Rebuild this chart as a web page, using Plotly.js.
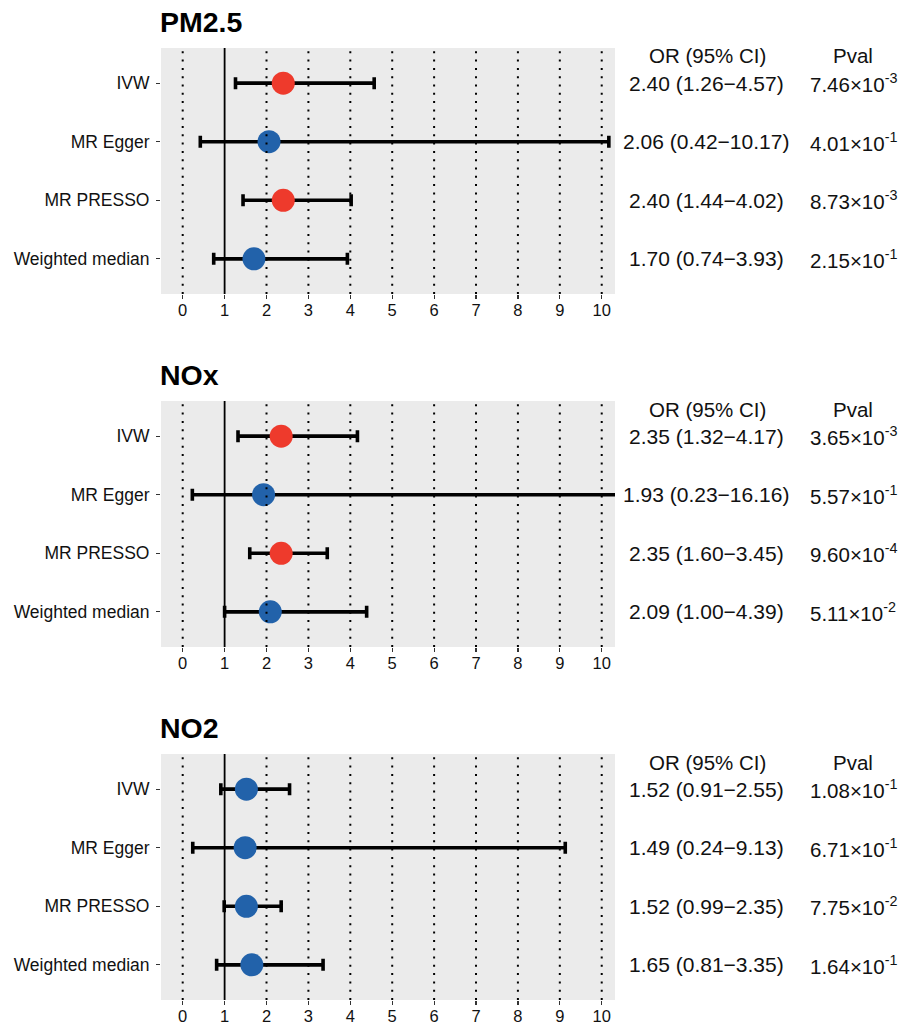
<!DOCTYPE html>
<html>
<head>
<meta charset="utf-8">
<script src="https://cdn.plot.ly/plotly-3.0.1.min.js"></script>
<style>html,body{margin:0;padding:0;background:#fff;}#chart{width:912px;height:1023px;}</style>
</head>
<body>
<div id="chart"></div>
<script>
// ---- data ----
const methods = ['IVW', 'MR Egger', 'MR PRESSO', 'Weighted median'];
const exposures = ['PM2.5', 'NOx', 'NO2'];

const pm25_or = [2.40, 2.06, 2.40, 1.70];
const pm25_lo = [1.26, 0.42, 1.44, 0.74];
const pm25_hi = [4.57, 10.17, 4.02, 3.93];
const pm25_p  = [7.46e-3, 4.01e-1, 8.73e-3, 2.15e-1];

const nox_or = [2.35, 1.93, 2.35, 2.09];
const nox_lo = [1.32, 0.23, 1.60, 1.00];
const nox_hi = [4.17, 16.16, 3.45, 4.39];
const nox_p  = [3.65e-3, 5.57e-1, 9.60e-4, 5.11e-2];

const no2_or = [1.52, 1.49, 1.52, 1.65];
const no2_lo = [0.91, 0.24, 0.99, 0.81];
const no2_hi = [2.55, 9.13, 2.35, 3.35];
const no2_p  = [1.08e-1, 6.71e-1, 7.75e-2, 1.64e-1];

const xTicks = [0, 1, 2, 3, 4, 5, 6, 7, 8, 9, 10];
const refLine = 1;
const colHeaders = ['OR (95% CI)', 'Pval'];

// ---- styling ----
const W = 912, H = 1023;
const RED = '#EE3A2C', BLUE = '#2262AA';
const panels = [
  {name: exposures[0], or: pm25_or, lo: pm25_lo, hi: pm25_hi, p: pm25_p},
  {name: exposures[1], or: nox_or, lo: nox_lo, hi: nox_hi, p: nox_p},
  {name: exposures[2], or: no2_or, lo: no2_lo, hi: no2_hi, p: no2_p}
];
const plotLeft = 161, plotRight = 615, panelH = 246, panelStep = 353, firstTop = 48;
const font = 'Liberation Sans, Arial, Helvetica, sans-serif';

function fmtP(p) {
  const s = p.toExponential(2).split('e');
  const exp = parseInt(s[1], 10);
  return s[0] + '×10<sup>' + exp + '</sup>';
}

const traces = [];
const layout = {
  width: W, height: H,
  margin: {l: 0, r: 0, t: 0, b: 0},
  paper_bgcolor: '#ffffff',
  plot_bgcolor: '#EBEBEB',
  showlegend: false,
  font: {family: font, color: '#111'},
  annotations: [],
  shapes: []
};

panels.forEach((pn, k) => {
  const sfx = k === 0 ? '' : String(k + 1);
  const xa = 'x' + sfx, ya = 'y' + sfx;
  const top = firstTop + panelStep * k, bottom = top + panelH;
  traces.push({
    type: 'scatter', mode: 'markers',
    x: pn.or, y: methods,
    xaxis: xa, yaxis: ya,
    error_x: {
      type: 'data', symmetric: false,
      array: pn.hi.map((h, i) => h - pn.or[i]),
      arrayminus: pn.lo.map((l, i) => pn.or[i] - l),
      color: '#000', thickness: 3.6, width: 6
    },
    marker: {size: 23, color: pn.p.map(v => v < 0.05 ? RED : BLUE), line: {width: 0}},
    hoverinfo: 'skip'
  });
  layout['xaxis' + sfx] = {
    domain: [plotLeft / W, plotRight / W],
    anchor: ya,
    range: [-0.518, 10.317],
    tickmode: 'array', tickvals: xTicks, ticktext: xTicks.map(String),
    ticks: 'outside', ticklen: 4, tickwidth: 1.2, tickcolor: '#333',
    ticklabelstandoff: -3,
    showgrid: false, zeroline: false, showline: false,
    tickfont: {size: 16.5, color: '#111', family: font},
    automargin: false, fixedrange: true
  };
  layout['yaxis' + sfx] = {
    domain: [1 - bottom / H, 1 - top / H],
    anchor: xa,
    type: 'category', categoryorder: 'array', categoryarray: methods,
    range: [3.6, -0.6],
    ticks: 'outside', ticklen: 4, tickwidth: 1.2, tickcolor: '#333',
    ticklabelstandoff: 3,
    showgrid: false, zeroline: false, showline: false,
    tickfont: {size: 17.5, color: '#111', family: font},
    automargin: false, fixedrange: true
  };
  // dotted vertical reference lines (above points)
  xTicks.forEach(t => {
    if (t === refLine) return;
    layout.shapes.push({
      type: 'line', layer: 'above', xref: xa, yref: ya + ' domain',
      x0: t, x1: t, y0: 0, y1: 1,
      line: {color: '#000', width: 2, dash: '2px,6.3px'}
    });
  });
  layout.shapes.push({
    type: 'line', layer: 'above', xref: xa, yref: ya + ' domain',
    x0: refLine, x1: refLine, y0: 0, y1: 1,
    line: {color: '#000', width: 1.8}
  });
  // panel title
  layout.annotations.push({
    xref: 'paper', yref: 'paper', x: 158 / W, y: 1 - (top - 26) / H,
    xanchor: 'left', yanchor: 'middle', showarrow: false,
    text: '<b>' + pn.name + '</b>', font: {size: 28.5, color: '#000', family: font}
  });
  // column headers
  [707, 853].forEach((cx, j) => {
    layout.annotations.push({
      xref: 'paper', yref: ya + ' domain', x: cx / W, y: 1 - 8 / panelH,
      xanchor: 'center', yanchor: 'middle', showarrow: false,
      text: colHeaders[j], font: {size: 20.5, color: '#111', family: font}
    });
  });
  // row texts
  methods.forEach((m, i) => {
    layout.annotations.push({
      xref: 'paper', yref: ya, x: 706 / W, y: m,
      xanchor: 'center', yanchor: 'middle', showarrow: false,
      text: pn.or[i].toFixed(2) + ' (' + pn.lo[i].toFixed(2) + '−' + pn.hi[i].toFixed(2) + ')',
      font: {size: 21, color: '#111', family: font}
    });
    layout.annotations.push({
      xref: 'paper', yref: ya, x: 853 / W, y: m,
      xanchor: 'center', yanchor: 'middle', showarrow: false,
      text: fmtP(pn.p[i]),
      font: {size: 20.5, color: '#111', family: font}
    });
  });
});

Plotly.newPlot('chart', traces, layout, {displayModeBar: false, staticPlot: true});
</script>
</body>
</html>
